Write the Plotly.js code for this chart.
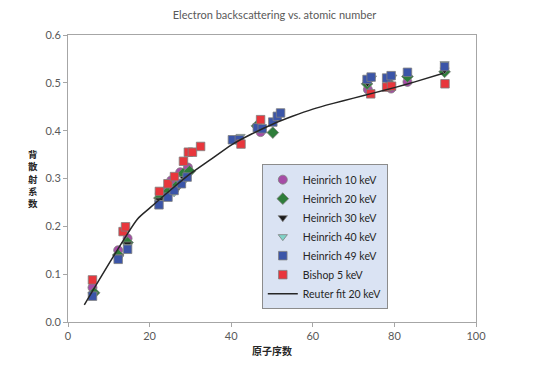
<!DOCTYPE html>
<html>
<head>
<meta charset="utf-8">
<script src="https://cdn.plot.ly/plotly-3.0.1.min.js"></script>
<style>html,body{margin:0;padding:0;background:#fff;}#chart{width:549px;height:372px;}</style>
</head>
<body>
<div id="chart"></div>
<script>
// Heinrich 10 keV
const h10Z = [6, 12.3, 14.6, 22.5, 24.2, 25.3, 27.5, 29.4, 47.2, 73.5, 79.2, 83.2];
const h10Eta = [0.072, 0.150, 0.175, 0.268, 0.276, 0.296, 0.313, 0.323, 0.397, 0.486, 0.488, 0.502];
// Heinrich 20 keV
const h20Z = [6.4, 12.3, 14.6, 22.4, 24.5, 26.5, 28.2, 29.8, 46.3, 50.2, 73.3, 78.9, 83.2, 92.3];
const h20Eta = [0.061, 0.140, 0.166, 0.259, 0.272, 0.283, 0.310, 0.315, 0.410, 0.396, 0.498, 0.497, 0.513, 0.523];
// Heinrich 30 keV
const h30Z = [6.2, 12.5, 14.6, 22.4, 26.4, 28.5, 46.5, 73.4, 78.5, 92.3];
const h30Eta = [0.058, 0.137, 0.163, 0.255, 0.275, 0.300, 0.405, 0.500, 0.503, 0.527];
// Heinrich 40 keV
const h40Z = [6, 12.5, 14.6, 22.4, 26, 28.5, 42.3, 46.5, 73.5, 74.5, 78.5, 79.5, 92.3];
const h40Eta = [0.057, 0.134, 0.158, 0.250, 0.270, 0.295, 0.388, 0.405, 0.506, 0.510, 0.508, 0.512, 0.540];
// Heinrich 49 keV
const h49Z = [6, 12.3, 14.6, 22.3, 24.5, 26, 27.8, 29.2, 40.3, 42, 46.4, 47.6, 50.2, 51.3, 52.1, 73.3, 74.3, 78.1, 79.2, 83.2, 92.3];
const h49Eta = [0.054, 0.131, 0.152, 0.245, 0.261, 0.275, 0.289, 0.303, 0.381, 0.381, 0.406, 0.404, 0.418, 0.430, 0.437, 0.507, 0.512, 0.510, 0.515, 0.522, 0.534];
// Bishop 5 keV
const b5Z = [6, 13.5, 14.1, 22.4, 24.5, 26.1, 28.3, 29.5, 30.5, 32.5, 42.4, 47.2, 74.2, 78.1, 79.3, 92.4];
const b5Eta = [0.088, 0.189, 0.199, 0.273, 0.289, 0.304, 0.336, 0.355, 0.355, 0.367, 0.372, 0.423, 0.477, 0.491, 0.493, 0.498];
// Reuter fit 20 keV
const fitZ = [4, 17, 20, 25, 30, 35, 40, 45, 50, 55, 60, 65, 70, 75, 80, 85, 92];
const fitEta = [0.036, 0.215, 0.238, 0.275, 0.310, 0.340, 0.370, 0.393, 0.413, 0.430, 0.445, 0.457, 0.468, 0.479, 0.490, 0.502, 0.520];

const xTicks = [0, 20, 40, 60, 80, 100];
const yTicks = [0, 0.1, 0.2, 0.3, 0.4, 0.5, 0.6];

const FONT = 'Lato, "Noto Sans CJK SC", sans-serif';
const outline = {color: '#7f7f7f', width: 0.8};

function pts(x, y, name, symbol, color, size) {
  return {x: x, y: y, name: name, type: 'scatter', mode: 'markers',
    marker: {symbol: symbol, color: color, size: size, line: outline}};
}

const data = [
  pts(h10Z, h10Eta, 'Heinrich 10 keV', 'circle', '#a64ca6', 9),
  pts(h20Z, h20Eta, 'Heinrich 20 keV', 'diamond', '#2e7d3a', 9),
  pts(h30Z, h30Eta, 'Heinrich 30 keV', 'triangle-down', '#1a1a1a', 8),
  pts(h40Z, h40Eta, 'Heinrich 40 keV', 'triangle-down', '#7fd3c8', 8),
  pts(h49Z, h49Eta, 'Heinrich 49 keV', 'square', '#3b55a8', 8.5),
  pts(b5Z, b5Eta, 'Bishop 5 keV', 'square', '#e8363c', 8.5),
  {x: fitZ, y: fitEta, name: 'Reuter fit 20 keV', type: 'scatter', mode: 'lines',
   line: {color: '#262626', width: 1.5, shape: 'spline', smoothing: 0.6}}
];

const axisCommon = {
  showgrid: false, zeroline: false, showline: true, linecolor: '#a6a6a6', linewidth: 1,
  mirror: true, ticks: 'outside', ticklen: 4, tickcolor: '#a6a6a6',
  tickfont: {family: FONT, size: 11, color: '#595959'}
};

const layout = {
  width: 549, height: 372,
  margin: {l: 68, r: 73, t: 35, b: 50},
  paper_bgcolor: '#ffffff', plot_bgcolor: '#ffffff',
  font: {family: FONT},
  title: {text: 'Electron backscattering vs. atomic number', x: 0.5, xanchor: 'center', y: 0.958, yanchor: 'middle',
    font: {family: FONT, size: 11, color: '#595959'}},
  xaxis: Object.assign({}, axisCommon, {range: [0, 100], tickvals: xTicks, ticktext: xTicks.map(String),
    title: {text: '<b>原子序数</b>', standoff: 6, font: {family: FONT, size: 10, color: '#262626'}}}),
  yaxis: Object.assign({}, axisCommon, {range: [0, 0.6], tickvals: yTicks, ticktext: yTicks.map(v => v.toFixed(1))}),
  showlegend: true,
  legend: {x: 0.475, y: 0.55, xanchor: 'left', yanchor: 'top', bgcolor: '#dae3f3', bordercolor: '#8c8c8c', borderwidth: 1,
    font: {family: FONT, size: 10.5, color: '#262626'}, tracegroupgap: 0, itemwidth: 30},
  annotations: [{text: '<b>背<br>散<br>射<br>系<br>数</b>', xref: 'paper', yref: 'paper', x: -0.085, y: 0.5,
    xanchor: 'center', yanchor: 'middle', showarrow: false, align: 'center',
    font: {family: FONT, size: 9.5, color: '#262626'}}]
};

Plotly.newPlot('chart', data, layout, {displayModeBar: false, staticPlot: true});
</script>
</body>
</html>
